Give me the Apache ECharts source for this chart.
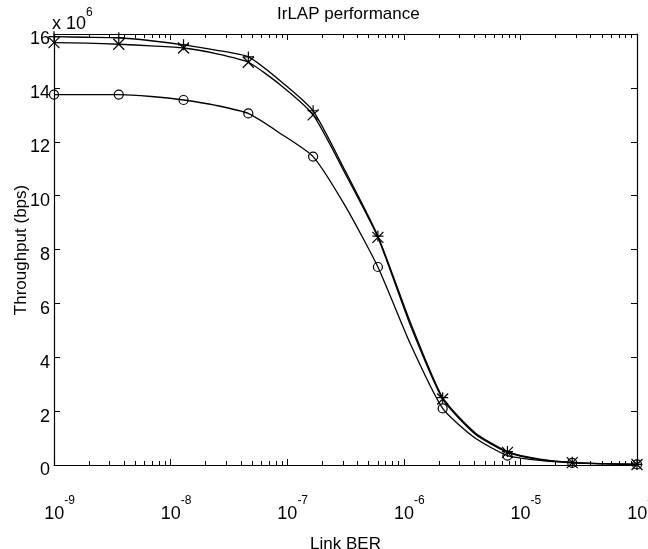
<!DOCTYPE html>
<html>
<head>
<meta charset="utf-8">
<script src="https://cdn.jsdelivr.net/npm/echarts@6/dist/echarts.min.js"></script>
<style>
  html, body { margin: 0; padding: 0; background: #fff; }
  #main { width: 648px; height: 549px; }
</style>
</head>
<body>
<div id="main"></div>
<script>
// link BER sample points (markers sit on every other one)
var berValues = [1e-9, 1.896e-9, 3.594e-9, 6.813e-9, 1.2915e-8, 2.448e-8, 4.642e-8, 8.799e-8,
    1.668e-7, 3.162e-7, 5.995e-7, 1.1365e-6, 2.154e-6, 4.084e-6, 7.743e-6, 1.468e-5,
    2.783e-5, 5.275e-5, 1e-4];
// throughput, in units of 10^6 bps
var plusCurve = [15.9, 15.88, 15.86, 15.75, 15.6, 15.4, 15.15, 14.25, 13.15, 10.9,
    8.5, 5.3, 2.5, 1.2, 0.5, 0.22, 0.1, 0.05, 0.02];
var crossCurve = [15.68, 15.66, 15.62, 15.56, 15.48, 15.27, 14.95, 14.1, 13.0, 10.8,
    8.45, 5.2, 2.45, 1.15, 0.47, 0.2, 0.09, 0.05, 0.02];
var circleCurve = [13.75, 13.75, 13.75, 13.68, 13.55, 13.35, 13.05, 12.3, 11.45, 9.6,
    7.35, 4.5, 2.1, 1.0, 0.35, 0.17, 0.08, 0.04, 0.02];
var xMajorTicks = [1e-9, 1e-8, 1e-7, 1e-6, 1e-5, 1e-4];

var FONT = 'Liberation Sans, Arial, sans-serif';

// minor ticks 2..9 in every decade (matlab style)
var xMinorTicks = [];
for (var d = -9; d < -4; d++) {
    for (var m = 2; m <= 9; m++) {
        xMinorTicks.push(m * Math.pow(10, d));
    }
}

function makeData(vals) {
    var out = [];
    for (var i = 0; i < vals.length; i++) {
        var item = { value: [berValues[i], vals[i]] };
        if (i % 2 === 1) item.symbol = 'none';   // only every other point gets a marker
        out.push(item);
    }
    return out;
}

function curve(name, vals, symbol, size) {
    return {
        name: name,
        type: 'line',
        data: makeData(vals),
        symbol: symbol,
        symbolSize: size,
        showAllSymbol: true,
        clip: false,
        smooth: 0.2,
        lineStyle: { color: '#000', width: 1.3 },
        itemStyle: { color: 'none', borderColor: '#000', borderWidth: 1.2 },
        emphasis: { disabled: true },
        z: 3
    };
}

function xAxisBase(pos, ticks, len, withLine, withLabel) {
    return {
        type: 'log',
        position: pos,
        min: 1e-9,
        max: 1e-4,
        logBase: 10,
        axisLine: { show: withLine, onZero: false, lineStyle: { color: '#000', width: 1.2 } },
        axisTick: { show: true, inside: true, length: len, customValues: ticks,
            lineStyle: { color: '#000', width: 1 } },
        axisLabel: withLabel ? {
            show: true,
            customValues: xMajorTicks,
            margin: 30,
            formatter: function (v) {
                var e = Math.round(Math.log10(v));
                return '{pad|}{b|10}{s|' + e + '}';
            },
            rich: {
                pad: { width: 11, fontSize: 12 },
                b: { fontSize: 18, fontFamily: FONT, color: '#000', padding: [10, 0, 0, 0], verticalAlign: 'bottom' },
                s: { fontSize: 12, fontFamily: FONT, color: '#000', verticalAlign: 'top' }
            }
        } : { show: false },
        splitLine: { show: false }
    };
}

function yAxisBase(pos, withLabel) {
    return {
        type: 'value',
        position: pos,
        min: 0,
        max: 16,
        interval: 2,
        axisLine: { show: true, onZero: false, lineStyle: { color: '#000', width: 1.2 } },
        axisTick: { show: true, inside: true, length: 6, lineStyle: { color: '#000', width: 1 } },
        axisLabel: withLabel ? {
            show: true, color: '#000', fontSize: 18, fontFamily: FONT, margin: 4,
            verticalAlign: 'top', lineHeight: 11
        } : { show: false },
        splitLine: { show: false }
    };
}

var chart = echarts.init(document.getElementById('main'));
var bottomX = xAxisBase('bottom', xMajorTicks, 6, true, true);
bottomX.name = 'Link BER';
bottomX.nameLocation = 'middle';
bottomX.nameGap = 71;
bottomX.nameTextStyle = { color: '#000', fontSize: 17, fontFamily: FONT };

var option = {
    backgroundColor: '#fff',
    animation: false,
    title: {
        text: 'IrLAP performance',
        left: 272,
        top: 1,
        textStyle: { color: '#000', fontSize: 17, fontWeight: 'normal', fontFamily: FONT }
    },
    grid: { left: 54, right: 11, top: 34, bottom: 84, containLabel: false, outerBoundsMode: 'none' },
    graphic: [{
        type: 'text',
        left: 52,
        top: 7,
        style: {
            text: '{b|x 10}{s|6}',
            rich: {
                b: { fontSize: 18, fontFamily: FONT, fill: '#000', padding: [8, 0, 0, 0], verticalAlign: 'bottom' },
                s: { fontSize: 12, fontFamily: FONT, fill: '#000', verticalAlign: 'top' }
            }
        }
    }, {
        // y axis title, rotated like matlab's ylabel
        type: 'text',
        x: 21,
        y: 250,
        rotation: Math.PI / 2,
        style: {
            text: 'Throughput (bps)',
            fontSize: 17,
            fontFamily: FONT,
            fill: '#000',
            align: 'center',
            verticalAlign: 'middle'
        }
    }],
    xAxis: [
        bottomX,
        xAxisBase('bottom', xMinorTicks, 4, false, false),
        xAxisBase('top', xMajorTicks, 6, true, false),
        xAxisBase('top', xMinorTicks, 4, false, false)
    ],
    yAxis: [
        yAxisBase('left', true),
        yAxisBase('right', false)
    ],
    series: [
        curve('plus', plusCurve, 'path://M5,0L5,10M0,5L10,5', 11),
        curve('cross', crossCurve, 'path://M0,0L10,10M0,10L10,0', 11),
        curve('circle', circleCurve, 'circle', 9)
    ]
};
chart.setOption(option);
</script>
</body>
</html>
